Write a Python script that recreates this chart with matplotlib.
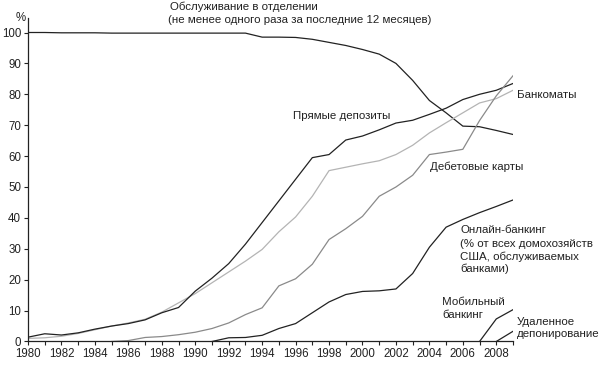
import matplotlib.pyplot as plt

plt.rcParams['font.family'] = ['Liberation Sans', 'DejaVu Sans']

# Data (percent of US households)
years = list(range(1980, 2010))

branch = [100, 100, 99.9, 99.9, 99.9, 99.8, 99.8, 99.8, 99.8, 99.8,
          99.8, 99.8, 99.8, 99.8, 98.5, 98.5, 98.4, 97.8, 96.8, 95.8,
          94.5, 93.0, 90.0, 84.5, 78.0, 74.0, 69.7, 69.5, 68.3, 67.0]

direct_deposit = [1.4, 2.5, 2.1, 2.8, 4.0, 5.0, 5.8, 7.0, 9.3, 11.0,
                  16.3, 20.5, 25.2, 31.5, 38.5, 45.5, 52.5, 59.5, 60.5, 65.2,
                  66.5, 68.5, 70.7, 71.6, 73.5, 75.5, 78.3, 80.0, 81.3, 83.5]

atm = [1.0, 1.2, 1.7, 2.6, 3.8, 5.0, 6.0, 7.2, 9.5, 12.5,
       15.5, 19.0, 22.5, 26.0, 29.8, 35.5, 40.3, 47.0, 55.3, 56.4,
       57.5, 58.5, 60.5, 63.5, 67.5, 70.8, 74.0, 77.2, 78.6, 81.3]

debit_years = list(range(1985, 2010))
debit = [0.0, 0.3, 1.3, 1.6, 2.2, 3.0, 4.2, 6.0, 8.7, 10.9,
         18.0, 20.3, 25.0, 33.0, 36.5, 40.5, 47.0, 50.0, 53.8, 60.5,
         61.3, 62.2, 71.5, 79.5, 86.0]

online_years = list(range(1991, 2010))
online = [0.0, 1.2, 1.3, 2.0, 4.2, 5.8, 9.3, 12.8, 15.2, 16.2,
          16.4, 17.0, 22.0, 30.5, 37.0, 39.5, 41.7, 43.7, 45.8]

mobile_years = [2007, 2008, 2009]
mobile = [0.0, 7.3, 10.3]

remote_years = [2008, 2009]
remote = [0.0, 3.3]

dark = '#222222'
light = '#b4b4b4'
mid = '#8a8a8a'

fig = plt.figure(figsize=(6, 3.65), dpi=100)
ax = fig.add_axes([0.0467, 0.0644, 0.8083, 0.8855])

ax.plot(years, branch, color=dark, lw=0.9)
ax.plot(years, atm, color=light, lw=0.9)
ax.plot(years, direct_deposit, color=dark, lw=0.9)
ax.plot(debit_years, debit, color=mid, lw=0.9)
ax.plot(online_years, online, color=dark, lw=0.9)
ax.plot(mobile_years, mobile, color=dark, lw=0.9)
ax.plot(remote_years, remote, color=dark, lw=0.9)

ax.set_xlim(1980, 2009)
ax.set_ylim(0, 104.6)
ax.set_xticks(years)
ax.set_xticklabels([str(y) if y % 2 == 0 else '' for y in years])
ax.set_yticks(range(0, 101, 10))
ax.tick_params(direction='out', length=3, width=0.8, labelsize=8.3,
               color=dark, labelcolor=dark, pad=2)
ax.spines['top'].set_visible(False)
ax.spines['right'].set_visible(False)
for s in ['left', 'bottom']:
    ax.spines[s].set_linewidth(0.9)
    ax.spines[s].set_color(dark)

fs = 8.25
tx = dict(fontsize=fs, color=dark, va='center', ha='left', clip_on=False)
fig.text(16 / 600, 1 - 18 / 365, '%', fontsize=8.3, color=dark, ha='left', va='center')
ax.text(1988.5, 108.3, 'Обслуживание в отделении', **tx)
ax.text(1988.4, 104.0, '(не менее одного раза за последние 12 месяцев)', **tx)
ax.text(1995.85, 73.0, 'Прямые депозиты', **tx)
ax.text(2009.25, 79.8, 'Банкоматы', **tx)
ax.text(2004.05, 56.6, 'Дебетовые карты', **tx)
ax.text(2005.85, 36.1, 'Онлайн-банкинг', **tx)
ax.text(2005.85, 31.5, '(% от всех домохозяйств', **tx)
ax.text(2005.85, 27.5, 'США, обслуживаемых', **tx)
ax.text(2005.85, 23.6, 'банками)', **tx)
ax.text(2004.75, 12.9, 'Мобильный', **tx)
ax.text(2004.75, 8.6, 'банкинг', **tx)
ax.text(2009.25, 6.4, 'Удаленное', **tx)
ax.text(2009.25, 2.3, 'депонирование', **tx)

fig.savefig('out.png', dpi=100)
